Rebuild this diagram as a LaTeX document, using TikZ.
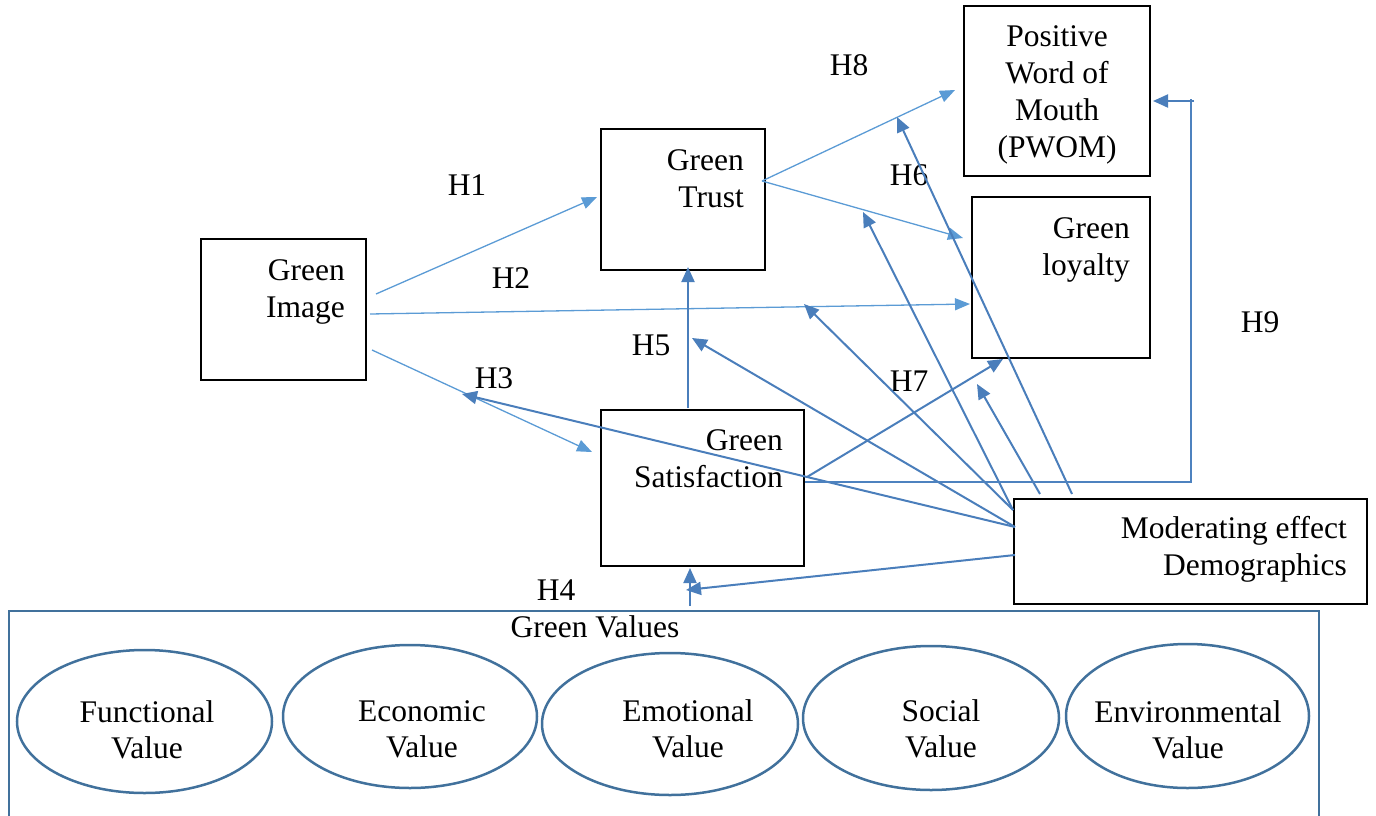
\documentclass[tikz,border=0pt]{standalone}
\usepackage{fontspec}
\setmainfont{Liberation Serif}
\usetikzlibrary{arrows.meta,shapes.geometric}
\definecolor{lblue}{HTML}{5B9BD5}
\definecolor{mblue}{HTML}{4A7EBB}
\definecolor{oblue}{HTML}{41719C}
\begin{document}
\begin{tikzpicture}[x=1pt,y=-1pt,
  box/.style={draw=black, line width=2pt, rectangle, inner sep=0pt},
  oval/.style={draw=oblue, line width=2.5pt, ellipse, inner sep=0pt},
  txt/.style={inner sep=0pt, font=\fontsize{31.5}{37}\selectfont},
  vtxt/.style={inner sep=0pt, align=center, anchor=base, font=\fontsize{31.5}{36}\selectfont},
  lbl/.style={inner sep=0pt, anchor=base, font=\fontsize{31.5}{37}\selectfont},
  larrow/.style={draw=lblue, line width=1.3pt, -{Triangle[length=15pt,width=12pt]}},
  darrow/.style={draw=mblue, line width=2pt, -{Triangle[length=15pt,width=13pt]}},
  hline/.style={draw=mblue!85!lblue, line width=1.6pt}
]
\useasboundingbox (0,0) rectangle (1376,816);

% boxes
\node[box, minimum width=165pt, minimum height=141pt] (img) at (283.5,309.5) {};
\node[box, minimum width=164pt, minimum height=141pt] (trust) at (683,199.5) {};
\node[box, minimum width=186pt, minimum height=170pt] (pwom) at (1057,91) {};
\node[box, minimum width=178pt, minimum height=161pt] (loy) at (1061,277.5) {};
\node[box, minimum width=203pt, minimum height=156pt] (sat) at (702.5,488) {};
\node[box, minimum width=353pt, minimum height=105pt] (mod) at (1190.5,551.5) {};

% box texts (anchor = baseline of last line)
\node[txt, align=right, anchor=base east] (imgT) at (345,317) {Green\\Image};
\node[txt, align=right, anchor=base east] (trustT) at (744,207) {Green\\Trust};
\node[txt, align=center, anchor=base, font=\fontsize{31.5}{36.7}\selectfont] (pwomT) at (1057,157) {Positive\\Word of\\Mouth\\(PWOM)};
\node[txt, align=right, anchor=base east] (loyT) at (1130,275) {Green\\loyalty};
\node[txt, align=right, anchor=base east] (satT) at (783,487) {Green\\Satisfaction};
\node[txt, align=right, anchor=base east] (modT) at (1347,575) {Moderating effect\\Demographics};

% green values panel
\draw[draw=oblue, line width=2.5pt] (9,830) -- (9,611) -- (1319,611) -- (1319,830);
\node[lbl] (gvT) at (595,637) {Green Values};
\node[oval, minimum width=255pt, minimum height=143pt] (fun) at (144.5,721.5) {};
\node[oval, minimum width=254pt, minimum height=143pt] (eco) at (410,716.5) {};
\node[oval, minimum width=256pt, minimum height=142pt] (emo) at (670,724) {};
\node[oval, minimum width=256pt, minimum height=144pt] (soc) at (931,718) {};
\node[oval, minimum width=243pt, minimum height=144pt] (env) at (1187.5,716) {};
\node[vtxt] (funT) at (147,758) {Functional\\Value};
\node[vtxt] (ecoT) at (422,757) {Economic\\Value};
\node[vtxt] (emoT) at (688,757) {Emotional\\Value};
\node[vtxt] (socT) at (941,757) {Social\\Value};
\node[vtxt] (envT) at (1188,758) {Environmental\\Value};

% hypothesis labels
\node[lbl] (h1) at (467,195) {H1};
\node[lbl] (h2) at (511,288) {H2};
\node[lbl] (h3) at (494,388) {H3};
\node[lbl] (h4) at (556,600) {H4};
\node[lbl] (h5) at (651,355) {H5};
\node[lbl] (h6) at (909,185) {H6};
\node[lbl] (h7) at (909,391) {H7};
\node[lbl] (h8) at (849,76) {H8};
\node[lbl] (h9) at (1260,332) {H9};

% connector end points
\coordinate (imgA) at (376,294);
\coordinate (imgB) at (370,314);
\coordinate (imgC) at (372,350);
\coordinate (trustIn) at (597,197);
\coordinate (loyIn) at (970,304);
\coordinate (satIn) at (592,452);
\coordinate (trustOut) at (762,181);
\coordinate (pwomIn) at (955,90);
\coordinate (loyIn2) at (963,238);
\coordinate (satTop) at (688,408);
\coordinate (trustBot) at (688,267);
\coordinate (gvOut) at (690,606);
\coordinate (satBot) at (690,568);
\coordinate (modL1) at (1013,510);
\coordinate (modL2) at (1015,527);
\coordinate (modL3) at (1015,555);
\coordinate (modT1) at (1040,494);
\coordinate (modT2) at (1072,494);
\coordinate (satBotIn) at (686,590);
\coordinate (onH3) at (462,394);
\coordinate (onH5) at (692,338);
\coordinate (onH2) at (804,304);
\coordinate (onH6) at (863,212);
\coordinate (onH7) at (977,384);
\coordinate (onH8) at (897,117);
\coordinate (satOut1) at (807,477);
\coordinate (loyBot) at (1003,359);
\coordinate (satOut2) at (805,482);
\coordinate (h9corner) at (1191,482);
\coordinate (h9top) at (1191,99);
\coordinate (h9stub) at (1194,101);
\coordinate (pwomR) at (1153,101);

% light arrows
\draw[larrow] (imgA) -- (trustIn);
\draw[larrow] (imgB) -- (loyIn);
\draw[larrow] (imgC) -- (satIn);
\draw[larrow] (trustOut) -- (pwomIn);
\draw[larrow] (trustOut) -- (loyIn2);

% dark arrows
\draw[darrow] (satTop) -- (trustBot);
\draw[darrow] (gvOut) -- (satBot);
\draw[darrow] (modL3) -- (satBotIn);
\draw[darrow] (modL2) -- (onH3);
\draw[darrow] (modL2) -- (onH5);
\draw[darrow] (modL1) -- (onH2);
\draw[darrow] (modL1) -- (onH6);
\draw[darrow] (modT1) -- (onH7);
\draw[darrow] (modT2) -- (onH8);
\draw[darrow] (satOut1) -- (loyBot);

% H9
\draw[hline] (satOut2) -- (h9corner) -- (h9top);
\draw[darrow] (h9stub) -- (pwomR);
\end{tikzpicture}
\end{document}
